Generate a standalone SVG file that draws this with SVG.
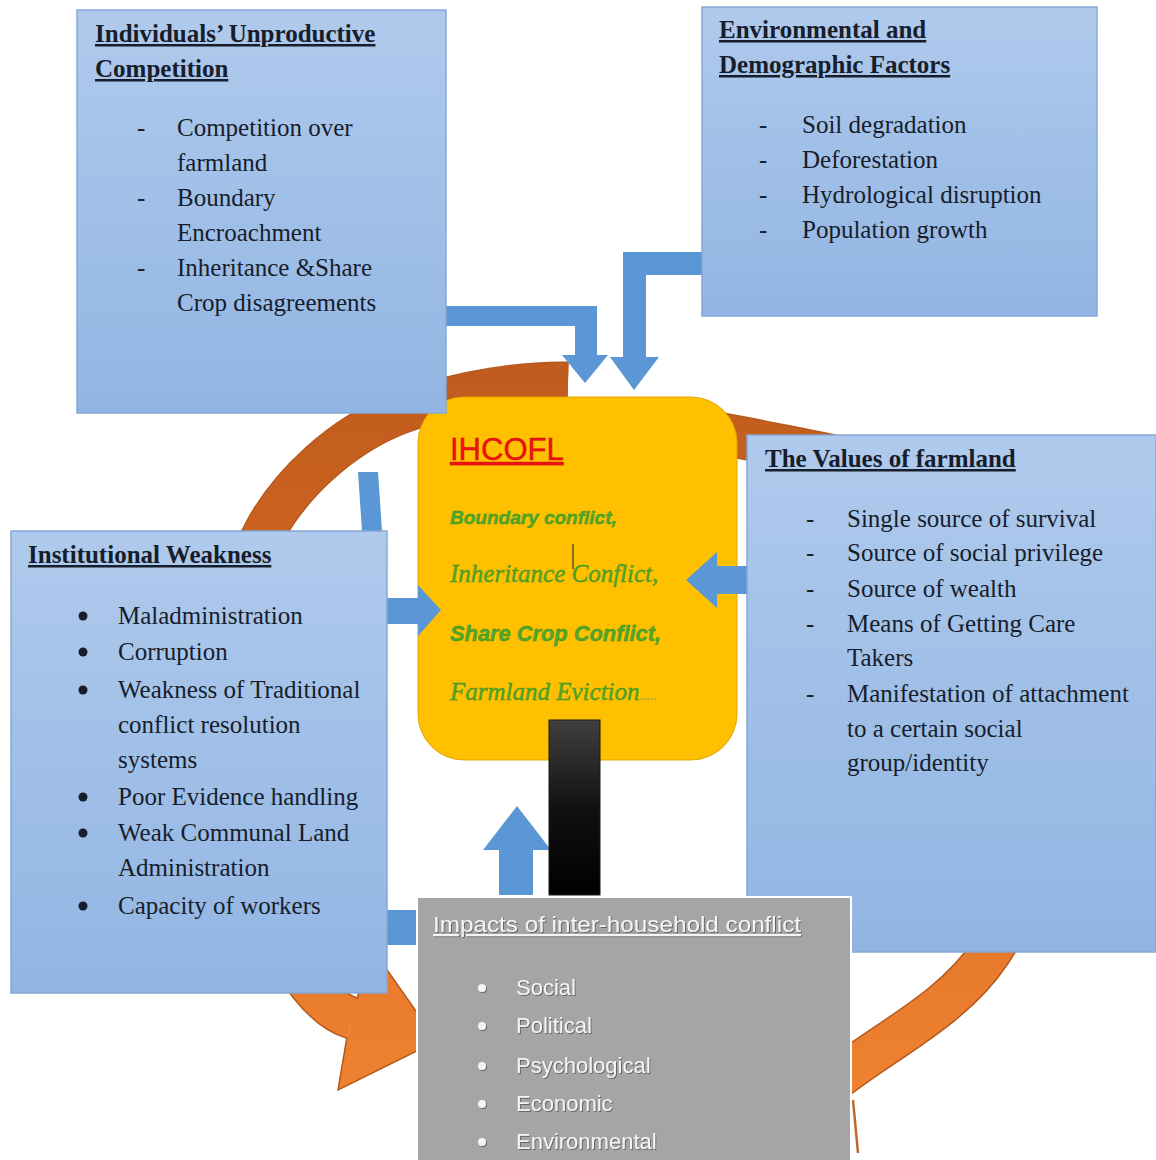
<svg xmlns="http://www.w3.org/2000/svg" width="1156" height="1160" viewBox="0 0 1156 1160">
<defs>
<linearGradient id="boxg" x1="0" y1="0" x2="0" y2="1">
<stop offset="0" stop-color="#afcaec"/>
<stop offset="1" stop-color="#91b5e3"/>
</linearGradient>
<linearGradient id="ringg" gradientUnits="userSpaceOnUse" x1="0" y1="360" x2="0" y2="1100">
<stop offset="0" stop-color="#bf5b1d"/>
<stop offset="0.45" stop-color="#d66a22"/>
<stop offset="1" stop-color="#f08331"/>
</linearGradient>
<linearGradient id="barg" x1="0" y1="0" x2="0" y2="1">
<stop offset="0" stop-color="#404040"/>
<stop offset="0.5" stop-color="#111"/>
<stop offset="1" stop-color="#000"/>
</linearGradient>
<filter id="sh" x="-5%" y="-20%" width="110%" height="140%">
<feDropShadow dx="1" dy="1" stdDeviation="0.6" flood-color="#555555" flood-opacity="0.8"/>
</filter>
<style>
.box{fill:url(#boxg);stroke:#86a8d6;stroke-width:1.5}
.t{font-family:"Liberation Serif","Times New Roman",serif;font-size:25px;fill:#171d2b}
.h{font-weight:bold;text-decoration:underline}
.arr{fill:#5b97d4}
.band{fill:none;stroke-linecap:butt;stroke-linejoin:round}
.edge{stroke:#b5591c;stroke-width:43}
.body{stroke:url(#ringg);stroke-width:40}
.gr{fill:#4fa82b;stroke:#3f8f22;stroke-width:0.4}
.w{font-family:"Liberation Sans",Arial,sans-serif;font-size:22px;fill:#f4f4f4}
</style>
</defs>
<rect width="1156" height="1160" fill="#ffffff"/>

<g id="cycle-arrow">
<path class="band edge" d="M 820,1092 C 877,1044 950,1013 990,953 C 1030,893 1062,800 1060,730 C 1058,661 1030,590 985,545 C 940,500 900,470 840,457 C 790,447 735,436 700,430"/>
<path class="band body" d="M 820,1092 C 877,1044 950,1013 990,953 C 1030,893 1062,800 1060,730 C 1058,661 1030,590 985,545 C 940,500 900,470 840,457 C 790,447 735,436 700,430"/>
<path class="band edge" d="M 568,383 C 530,382 460,390 400,413 C 340,436 290,485 265,531 C 240,577 215,650 218,720 C 221,790 245,870 270,920 C 295,970 323,1010 352,1018"/>
<path class="band body" d="M 568,383 C 530,382 460,390 400,413 C 340,436 290,485 265,531 C 240,577 215,650 218,720 C 221,790 245,870 270,920 C 295,970 323,1010 352,1018"/>
<polygon points="347,1037 338,1090 437,1041 371,947 357,999" fill="url(#ringg)"/>
<polyline points="347,1037 338,1090 437,1041 371,947 357,999" fill="none" stroke="#b5591c" stroke-width="1.5"/>
<line x1="853" y1="1100" x2="858" y2="1153" stroke="#c0662a" stroke-width="2.5"/>
</g>

<g id="ihcofl">
<rect x="418" y="397" width="319" height="363" rx="46" fill="#ffc000" stroke="#e3a700" stroke-width="1"/>
<text x="450" y="460" font-family="Liberation Sans,Arial,sans-serif" font-size="31" fill="#ee1111" stroke="#cc1010" stroke-width="0.4" text-decoration="underline">IHCOFL</text>
<text class="gr" x="450" y="524" font-family="Liberation Sans,Arial,sans-serif" font-size="19" font-weight="bold" font-style="italic">Boundary conflict,</text>
<text class="gr" x="450" y="582" font-family="Liberation Serif,Times New Roman,serif" font-size="25" font-style="italic">Inheritance Conflict,</text>
<text class="gr" x="450" y="641" font-family="Liberation Sans,Arial,sans-serif" font-size="22" font-weight="bold" font-style="italic" textLength="211" lengthAdjust="spacingAndGlyphs">Share Crop Conflict,</text>
<text class="gr" x="450" y="700" font-family="Liberation Serif,Times New Roman,serif" font-size="25" font-style="italic">Farmland Eviction<tspan font-size="14" fill="#8a9a5a" stroke="none">.....</tspan></text>
<line x1="573" y1="544" x2="573" y2="569" stroke="#3a3a3a" stroke-width="1.2"/>
</g>

<g id="connectors">
<polygon class="arr" points="446,306 597,306 597,355 608,355 585,383 562,355 575,355 575,326 446,326"/>
<polygon class="arr" points="702,252 623,252 623,357 610,357 634,390 659,357 646,357 646,275 702,275"/>
<polygon class="arr" points="747,566 717,566 717,552 686,580 717,608 717,594 747,594"/>
<polygon class="arr" points="387,598 418,598 418,585 441,610 418,636 418,624 387,624"/>
<polygon class="arr" points="499,895 499,850 483,850 517,806 551,850 533,850 533,895"/>
<polygon class="arr" points="358,472 378,472 382,531 362,531"/>
<rect class="arr" x="387" y="910" width="30" height="35"/>
<rect x="549" y="720" width="51" height="175" fill="url(#barg)" stroke="#1a1a1a" stroke-width="1"/>
</g>

<g id="individuals-competition">
<rect class="box" x="77" y="10" width="369" height="403"/>
<text class="t h" x="95" y="42">Individuals&#8217; Unproductive</text>
<text class="t h" x="95" y="77">Competition</text>
<text class="t" x="137" y="136">-</text>
<text class="t" x="177" y="136">Competition over</text>
<text class="t" x="177" y="171">farmland</text>
<text class="t" x="137" y="206">-</text>
<text class="t" x="177" y="206">Boundary</text>
<text class="t" x="177" y="241">Encroachment</text>
<text class="t" x="137" y="276">-</text>
<text class="t" x="177" y="276">Inheritance &amp;Share</text>
<text class="t" x="177" y="311">Crop disagreements</text>
</g>

<g id="environmental-demographic">
<rect class="box" x="702" y="7" width="395" height="309"/>
<text class="t h" x="719" y="38">Environmental and</text>
<text class="t h" x="719" y="73">Demographic Factors</text>
<text class="t" x="759" y="133">-</text>
<text class="t" x="802" y="133">Soil degradation</text>
<text class="t" x="759" y="168">-</text>
<text class="t" x="802" y="168">Deforestation</text>
<text class="t" x="759" y="203">-</text>
<text class="t" x="802" y="203">Hydrological disruption</text>
<text class="t" x="759" y="238">-</text>
<text class="t" x="802" y="238">Population growth</text>
</g>

<g id="institutional-weakness">
<rect class="box" x="11" y="531" width="376" height="462"/>
<text class="t h" x="28" y="563">Institutional Weakness</text>
<g fill="#171d2b">
<circle cx="83" cy="616" r="4.5"/>
<circle cx="83" cy="652" r="4.5"/>
<circle cx="83" cy="690" r="4.5"/>
<circle cx="83" cy="797" r="4.5"/>
<circle cx="83" cy="833" r="4.5"/>
<circle cx="83" cy="906" r="4.5"/>
</g>
<text class="t" x="118" y="624">Maladministration</text>
<text class="t" x="118" y="660">Corruption</text>
<text class="t" x="118" y="698">Weakness of Traditional</text>
<text class="t" x="118" y="733">conflict resolution</text>
<text class="t" x="118" y="768">systems</text>
<text class="t" x="118" y="805">Poor Evidence handling</text>
<text class="t" x="118" y="841">Weak Communal Land</text>
<text class="t" x="118" y="876">Administration</text>
<text class="t" x="118" y="914">Capacity of workers</text>
</g>

<g id="values-of-farmland">
<rect class="box" x="747" y="435" width="409" height="517"/>
<text class="t h" x="765" y="467">The Values of farmland</text>
<text class="t" x="806" y="527">-</text>
<text class="t" x="847" y="527">Single source of survival</text>
<text class="t" x="806" y="561">-</text>
<text class="t" x="847" y="561">Source of social privilege</text>
<text class="t" x="806" y="597">-</text>
<text class="t" x="847" y="597">Source of wealth</text>
<text class="t" x="806" y="632">-</text>
<text class="t" x="847" y="632">Means of Getting Care</text>
<text class="t" x="847" y="666">Takers</text>
<text class="t" x="806" y="702">-</text>
<text class="t" x="847" y="702">Manifestation of attachment</text>
<text class="t" x="847" y="737">to a certain social</text>
<text class="t" x="847" y="771">group/identity</text>
</g>

<g id="impacts">
<rect x="417" y="897" width="434" height="265" fill="#a5a5a5" stroke="#ffffff" stroke-width="2"/>
<g filter="url(#sh)">
<text class="w" x="433" y="932" textLength="368" lengthAdjust="spacingAndGlyphs" text-decoration="underline">Impacts of inter-household conflict</text>
<g fill="#f4f4f4">
<circle cx="482" cy="988" r="4"/>
<circle cx="482" cy="1026" r="4"/>
<circle cx="482" cy="1066" r="4"/>
<circle cx="482" cy="1104" r="4"/>
<circle cx="482" cy="1142" r="4"/>
</g>
<text class="w" x="516" y="995">Social</text>
<text class="w" x="516" y="1033">Political</text>
<text class="w" x="516" y="1073">Psychological</text>
<text class="w" x="516" y="1111">Economic</text>
<text class="w" x="516" y="1149">Environmental</text>
</g>
</g>
</svg>
